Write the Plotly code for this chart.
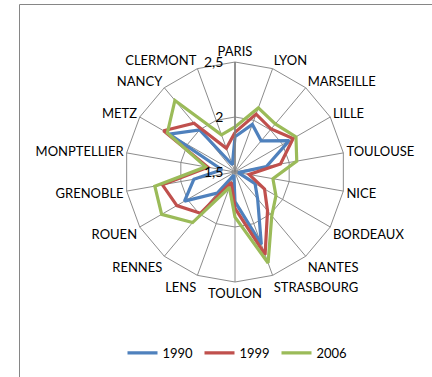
import plotly.graph_objects as go

# Cities on the radar (clockwise from the top)
cities = ["PARIS", "LYON", "MARSEILLE", "LILLE", "TOULOUSE", "NICE", "BORDEAUX",
          "NANTES", "STRASBOURG", "TOULON", "LENS", "RENNES", "ROUEN", "GRENOBLE",
          "MONPTELLIER", "METZ", "NANCY", "CLERMONT"]

v1990 = [1.82, 1.96, 1.87, 2.07, 1.79, 1.53, 1.71, 1.82, 2.20, 1.77, 1.53, 1.75,
         2.03, 1.88, 1.62, 2.19, 2.00, 1.57]
v1999 = [1.86, 2.06, 2.01, 2.11, 1.92, 1.63, 1.81, 1.96, 2.30, 1.83, 1.60, 1.99,
         2.11, 2.17, 1.75, 2.25, 2.08, 1.73]
v2006 = [1.91, 2.12, 2.07, 2.14, 2.07, 1.85, 1.93, 2.02, 2.38, 1.91, 1.65, 2.10,
         2.27, 2.24, 1.77, 2.21, 2.35, 1.86]

years = ["1990", "1999", "2006"]
colors = ["#4F81BD", "#C0504D", "#9BBB59"]

radial_ticks = [1.5, 2, 2.5]
radial_labels = ["1,5", "2", "2,5"]

fig = go.Figure()
for name, vals, col in zip(years, [v1990, v1999, v2006], colors):
    fig.add_trace(go.Scatterpolar(
        r=vals + vals[:1],
        theta=cities + cities[:1],
        mode="lines",
        name=name,
        line=dict(color=col, width=3.2),
        cliponaxis=False,
    ))

W, H = 432, 377
cx, cy, R = 235, 172, 110

fig.update_layout(
    width=W, height=H,
    margin=dict(l=0, r=0, t=0, b=0),
    paper_bgcolor="white",
    plot_bgcolor="white",
    font=dict(family="Lato", size=13, color="#000000"),
    showlegend=True,
    legend=dict(
        orientation="h",
        x=238 / W, xanchor="center",
        y=(H - 353) / H, yanchor="middle",
        font=dict(size=13),
        entrywidth=32,
        bgcolor="rgba(0,0,0,0)",
    ),
    polar=dict(
        domain=dict(x=[(cx - R) / W, (cx + R) / W],
                    y=[(H - cy - R) / H, (H - cy + R) / H]),
        bgcolor="white",
        gridshape="linear",
        angularaxis=dict(
            type="category",
            categoryarray=cities,
            rotation=90,
            direction="clockwise",
            showline=True,
            linecolor="#8C8C8C",
            linewidth=1,
            gridcolor="#8C8C8C",
            gridwidth=1,
            ticks="",
            tickfont=dict(size=13, color="#000000"),
        ),
        radialaxis=dict(
            range=[1.5, 2.5],
            angle=90,
            side="counterclockwise",
            tickvals=radial_ticks,
            ticktext=radial_labels,
            tickangle=90,
            showline=True,
            linecolor="#7F7F7F",
            linewidth=1.5,
            gridcolor="#8C8C8C",
            gridwidth=1,
            ticks="outside",
            ticklen=6,
            tickcolor="rgba(0,0,0,0)",
            tickfont=dict(size=14, color="#000000"),
        ),
    ),
    shapes=[
        dict(type="line", xref="paper", yref="paper",
             x0=19.5 / W, x1=19.5 / W, y0=0, y1=(H - 4.5) / H,
             line=dict(color="#868686", width=1)),
        dict(type="line", xref="paper", yref="paper",
             x0=19.5 / W, x1=1, y0=(H - 4.5) / H, y1=(H - 4.5) / H,
             line=dict(color="#868686", width=1)),
    ],
)

fig.write_html("out.html")
